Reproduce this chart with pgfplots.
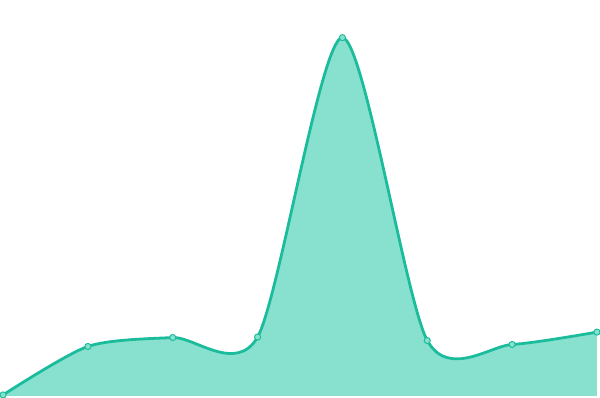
\documentclass[border=0pt]{standalone}
\usepackage{pgfplots}
\pgfplotsset{compat=1.18}
\definecolor{lineC}{RGB}{26,188,156}
\definecolor{fillC}{RGB}{136,224,207}
\begin{document}
\begin{tikzpicture}
\begin{axis}[
    scale only axis,
    width=15cm, height=10cm,
    axis lines=none,
    xmin=0, xmax=7,
    ymin=0, ymax=400,
]
\addplot[fill=fillC, draw=none, smooth, tension=0.45] coordinates {
    (0,1) (1,50) (2,59) (3,59.5) (4,362) (5,56) (6,52) (7,64.5)
} \closedcycle;
\addplot[lineC, line width=2pt, smooth, tension=0.45,
    mark=*, mark size=2.2pt,
    mark options={fill=fillC, draw=lineC, line width=0.7pt}] coordinates {
    (0,1) (1,50) (2,59) (3,59.5) (4,362) (5,56) (6,52) (7,64.5)
};
\end{axis}
\useasboundingbox (current axis.south west) rectangle (current axis.north east);
\end{tikzpicture}
\end{document}
